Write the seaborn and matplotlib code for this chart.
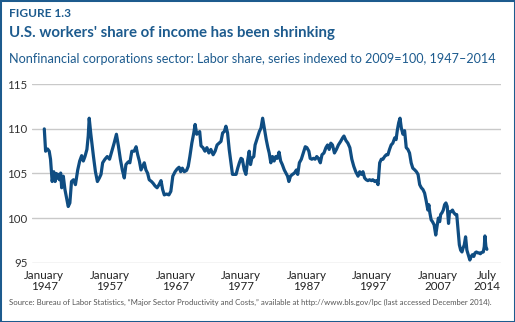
import matplotlib
matplotlib.use("Agg")
import matplotlib.pyplot as plt
from matplotlib.patches import Rectangle
import seaborn as sns
import pandas as pd

# Labor share index, nonfinancial corporations (2009 = 100), by date (decimal year)
years = [
    1947.0, 1947.2, 1947.5, 1947.75, 1947.95, 1948.2, 1948.45, 1948.65, 1948.85, 1949.0,
    1949.15, 1949.3, 1949.5, 1949.65, 1949.9, 1950.15, 1950.4, 1950.65, 1950.9, 1951.15,
    1951.45, 1951.75, 1952.1, 1952.4, 1952.7, 1952.95, 1953.2, 1953.5, 1953.7, 1953.85,
    1954.1, 1954.5, 1954.8, 1955.1, 1955.4, 1955.65, 1955.9, 1956.25, 1956.6, 1956.95,
    1957.3, 1957.65, 1958.0, 1958.3, 1958.6, 1958.9, 1959.2, 1959.45, 1959.8, 1960.05,
    1960.35, 1960.7, 1961.0, 1961.25, 1961.5, 1961.75, 1962.0, 1962.25, 1962.5, 1962.75,
    1963.0, 1963.35, 1963.6, 1963.9, 1964.2, 1964.5, 1964.8, 1965.05, 1965.3, 1965.65,
    1966.0, 1966.3, 1966.6, 1966.95, 1967.25, 1967.55, 1967.8, 1968.05, 1968.35, 1968.7,
    1968.95, 1969.2, 1969.5, 1969.8, 1970.0, 1970.25, 1970.5, 1970.7, 1970.9, 1971.2,
    1971.5, 1971.8, 1972.1, 1972.4, 1972.75, 1973.05, 1973.35, 1973.65, 1973.95, 1974.2,
    1974.45, 1974.7, 1974.95, 1975.2, 1975.5, 1975.7, 1976.0, 1976.25, 1976.5, 1976.75,
    1977.0, 1977.2, 1977.5, 1977.75, 1978.0, 1978.25, 1978.45, 1978.65, 1978.95, 1979.15,
    1979.5, 1979.8, 1980.05, 1980.3, 1980.6, 1980.85, 1981.1, 1981.3, 1981.55, 1981.8,
    1982.05, 1982.3, 1982.55, 1982.8, 1983.05, 1983.3, 1983.6, 1983.85, 1984.1, 1984.3,
    1984.55, 1984.85, 1985.15, 1985.45, 1985.65, 1985.9, 1986.2, 1986.5, 1986.8, 1987.05,
    1987.35, 1987.55, 1987.8, 1988.05, 1988.3, 1988.55, 1988.8, 1989.1, 1989.35, 1989.65,
    1989.95, 1990.2, 1990.45, 1990.7, 1990.95, 1991.25, 1991.55, 1991.85, 1992.2, 1992.5,
    1992.7, 1993.0, 1993.3, 1993.6, 1993.9, 1994.2, 1994.5, 1994.85, 1995.1, 1995.35,
    1995.6, 1995.85, 1996.1, 1996.35, 1996.6, 1996.9, 1997.1, 1997.4, 1997.65, 1997.9,
    1998.15, 1998.4, 1998.65, 1998.9, 1999.15, 1999.4, 1999.65, 1999.9, 2000.15, 2000.45,
    2000.65, 2000.85, 2001.05, 2001.25, 2001.45, 2001.7, 2001.95, 2002.2, 2002.45, 2002.7,
    2002.95, 2003.2, 2003.5, 2003.75, 2004.0, 2004.25, 2004.5, 2004.75, 2005.0, 2005.25,
    2005.5, 2005.65, 2005.8, 2006.0, 2006.2, 2006.45, 2006.7, 2006.9, 2007.1, 2007.3,
    2007.45, 2007.65, 2007.85, 2008.05, 2008.25, 2008.45, 2008.65, 2008.8, 2009.0, 2009.25,
    2009.45, 2009.7, 2009.9, 2010.1, 2010.3, 2010.5, 2010.7, 2010.85, 2011.05, 2011.25,
    2011.45, 2011.65, 2011.9, 2012.1, 2012.3, 2012.5, 2012.7, 2012.9, 2013.1, 2013.3,
    2013.5, 2013.7, 2013.95, 2014.1, 2014.2, 2014.35, 2014.5,
]
share = [
    110.0, 107.5, 107.75, 107.5, 106.6, 104.1, 105.2, 104.1, 105.0, 104.5,
    104.9, 104.3, 105.05, 103.4, 104.7, 103.2, 102.25, 101.3, 101.7, 104.1,
    104.3, 103.75, 105.4, 106.4, 107.0, 106.4, 106.9, 107.7, 109.2, 111.2,
    109.4, 106.9, 105.2, 104.1, 104.5, 104.9, 106.2, 106.6, 106.9, 106.6,
    107.5, 108.4, 109.4, 108.1, 106.6, 105.4, 104.5, 106.0, 106.3, 106.2,
    107.5, 107.5, 108.0, 107.1, 106.4, 105.4, 105.8, 106.2, 105.4, 105.05,
    104.3, 104.1, 103.9, 103.6, 103.4, 103.75, 104.2, 103.2, 102.6, 102.7,
    102.6, 103.0, 104.7, 105.2, 105.5, 105.7, 105.2, 105.6, 105.2, 105.35,
    105.8, 106.9, 108.4, 109.55, 110.5, 109.4, 109.55, 109.7, 108.1, 107.9,
    107.5, 107.9, 107.3, 107.7, 107.1, 107.5, 108.2, 108.4, 108.6, 109.55,
    109.7, 110.3, 109.55, 107.7, 106.0, 104.9, 104.9, 104.9, 105.6, 106.2,
    106.7, 106.6, 105.4, 104.9, 106.4, 107.5, 106.0, 106.7, 106.9, 108.2,
    109.0, 109.7, 110.1, 111.2, 109.9, 108.8, 107.9, 107.3, 106.2, 106.9,
    106.4, 106.9, 106.7, 107.4, 106.4, 106.0, 105.4, 105.05, 104.7, 104.1,
    104.7, 104.9, 105.05, 105.4, 104.9, 106.2, 106.6, 107.3, 108.0, 107.9,
    107.5, 106.7, 106.6, 106.7, 106.6, 106.9, 106.7, 106.2, 107.1, 107.3,
    107.9, 108.2, 107.7, 108.4, 108.2, 107.3, 107.7, 108.2, 108.6, 109.0,
    109.2, 108.7, 108.4, 107.9, 106.6, 105.8, 105.2, 104.7, 105.2, 104.9,
    105.2, 104.5, 104.3, 104.2, 104.3, 104.2, 104.3, 104.1, 104.2, 103.75,
    106.2, 106.6, 106.6, 106.9, 107.1, 107.1, 107.7, 108.2, 108.4, 109.0,
    108.8, 109.9, 110.7, 111.2, 110.1, 109.4, 109.8, 107.9, 107.7, 107.3,
    106.2, 105.6, 105.4, 105.2, 104.9, 103.75, 103.4, 103.2, 102.8, 101.9,
    100.9, 101.5, 100.6, 99.8, 99.6, 99.25, 98.1, 99.1, 100.0, 99.6,
    100.4, 100.6, 100.9, 101.5, 101.7, 101.3, 99.4, 100.7, 100.7, 100.9,
    100.6, 100.4, 100.4, 98.7, 97.0, 96.4, 96.2, 96.6, 97.0, 97.9,
    96.4, 95.9, 95.3, 95.7, 95.9, 95.7, 96.1, 96.2, 96.1, 96.1,
    96.0, 96.15, 96.2, 96.8, 98.0, 96.8, 96.5,
]

x_ticks = [1947, 1957, 1967, 1977, 1987, 1997, 2007, 2014.5]
x_labels = ["January\n1947", "January\n1957", "January\n1967", "January\n1977",
            "January\n1987", "January\n1997", "January\n2007", "July\n2014"]
y_ticks = [95, 100, 105, 110, 115]

BLUE = "#1d5b8e"
LINE = "#0f4d82"

sns.set_theme(style="white")
plt.rcParams["font.family"] = ["Lato", "DejaVu Sans"]

df = pd.DataFrame({"year": years, "share": share})

fig = plt.figure(figsize=(5.15, 3.22), dpi=100)
ax = fig.add_axes([0.0627, 0.1842, 0.9101, 0.554])

sns.lineplot(data=df, x="year", y="share", ax=ax, color=LINE, linewidth=2.3,
             solid_capstyle="round", solid_joinstyle="round", sort=False)

ax.set_xlim(1945.17, 2016.65)
ax.set_ylim(95, 115)
ax.set_yticks(y_ticks)
ax.set_yticklabels([str(v) for v in y_ticks])
ax.set_xticks(x_ticks)
ax.set_xticklabels(x_labels, linespacing=1.0)
ax.yaxis.grid(True, color="#c9c9c9", linewidth=1.0)
ax.xaxis.grid(False)
ax.set_axisbelow(True)
for s in ax.spines.values():
    s.set_visible(False)
ax.tick_params(axis="y", length=0, pad=3.5, labelsize=8.3, labelcolor="#333333")
ax.tick_params(axis="x", length=0, pad=5, labelsize=8.4, labelcolor="#222222")
ax.set_xlabel("")
ax.set_ylabel("")

fig.text(9 / 515, 1 - 17.3 / 322, "FIGURE 1.3", fontsize=8.6, fontweight="bold",
         color=BLUE, ha="left", va="baseline")
fig.text(9 / 515, 1 - 37.3 / 322, "U.S. workers' share of income has been shrinking",
         fontsize=10.8, fontweight="bold", color=BLUE, ha="left", va="baseline")
fig.text(9 / 515, 1 - 63.3 / 322,
         "Nonfinancial corporations sector: Labor share, series indexed to 2009=100, 1947\u20132014",
         fontsize=9.1, color=BLUE, ha="left", va="baseline")
fig.text(9 / 515, 1 - 305 / 322,
         "Source: Bureau of Labor Statistics, \u201cMajor Sector Productivity and Costs,\u201d available at "
         "http://www.bls.gov/lpc (last accessed December 2014).",
         fontsize=5.6, color="#555555", ha="left", va="baseline")

fig.patches.append(Rectangle((0, 0), 1, 1, transform=fig.transFigure, fill=False,
                             edgecolor=BLUE, linewidth=2.2, zorder=10))

fig.savefig("out.png", dpi=100)
